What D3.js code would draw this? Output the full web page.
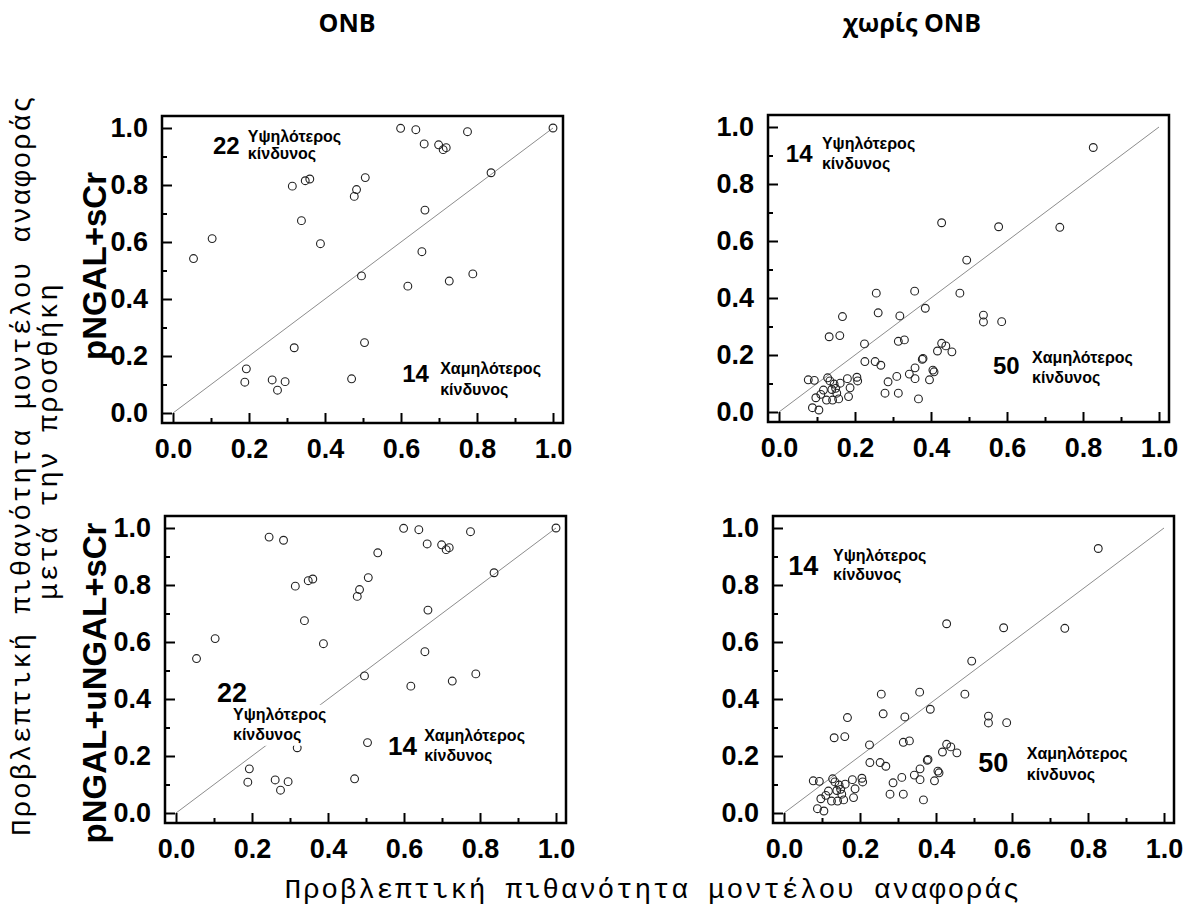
<!DOCTYPE html>
<html>
<head>
<meta charset="utf-8">
<script src="https://cdn.jsdelivr.net/npm/d3@7"></script>
<style>
  body { margin: 0; background: #fff; }
</style>
</head>
<body>
<div id="chart"></div>
<script>
// ONB patients: reference model probability vs. model with pNGAL added
const onbRef = [0.599, 0.639, 0.661, 0.699, 0.711, 0.719, 0.775, 1.0, 0.837, 0.314, 0.348,
  0.360, 0.506, 0.483, 0.477, 0.338, 0.663, 0.103, 0.054, 0.388, 0.655, 0.496, 0.789,
  0.727, 0.618, 0.504, 0.319, 0.193, 0.189, 0.261, 0.295, 0.275, 0.470];
const onbNew = [0.999, 0.994, 0.944, 0.941, 0.924, 0.931, 0.987, 1.0, 0.843, 0.796, 0.815,
  0.821, 0.826, 0.784, 0.760, 0.675, 0.712, 0.612, 0.542, 0.594, 0.566, 0.481, 0.488,
  0.463, 0.445, 0.247, 0.229, 0.155, 0.108, 0.116, 0.110, 0.080, 0.120];
// extra ONB points that only show up once uNGAL is added
const onbExtraRef = [0.245, 0.283, 0.531];
const onbExtraNew = [0.968, 0.957, 0.913];

// patients without ONB
const noOnbRef = [0.827, 0.428, 0.578, 0.739, 0.494, 0.256, 0.357, 0.476, 0.385, 0.261,
  0.318, 0.167, 0.538, 0.538, 0.586, 0.132, 0.160, 0.225, 0.314, 0.330, 0.428, 0.439,
  0.455, 0.417, 0.226, 0.253, 0.268, 0.377, 0.379, 0.358, 0.343, 0.358, 0.405, 0.408,
  0.396, 0.310, 0.287, 0.279, 0.314, 0.367,
  0.077, 0.093, 0.128, 0.134, 0.161, 0.180, 0.205, 0.207, 0.187, 0.117, 0.139, 0.149,
  0.097, 0.125, 0.141, 0.157, 0.152, 0.183, 0.088, 0.105, 0.110, 0.145];
const noOnbNew = [0.928, 0.664, 0.650, 0.648, 0.533, 0.417, 0.424, 0.417, 0.364, 0.348,
  0.337, 0.335, 0.340, 0.316, 0.317, 0.264, 0.268, 0.239, 0.248, 0.253, 0.241, 0.232,
  0.211, 0.214, 0.177, 0.177, 0.164, 0.185, 0.188, 0.155, 0.133, 0.117, 0.147, 0.141,
  0.113, 0.125, 0.106, 0.066, 0.066, 0.046,
  0.113, 0.111, 0.120, 0.109, 0.101, 0.117, 0.122, 0.109, 0.085, 0.077, 0.079, 0.083,
  0.050, 0.042, 0.042, 0.046, 0.066, 0.054, 0.015, 0.007, 0.062, 0.098];

const majorTicks = [0, 0.2, 0.4, 0.6, 0.8, 1.0];
const minorTicks = [0.1, 0.3, 0.5, 0.7, 0.9];

const colTitles = ["ONB", "χωρίς ONB"];
const rowTitles = ["pNGAL+sCr", "pNGAL+uNGAL+sCr"];
const xTitle = "Προβλεπτική πιθανότητα μοντέλου αναφοράς";
const yTitle = ["Προβλεπτική πιθανότητα μοντέλου αναφοράς", "μετά την προσθήκη"];

// reclassification counts, placed in data units: [text, x, y, size, masked]
const notesTL = [["22", 0.105, 0.908, 24], ["Υψηλότερος", 0.197, 0.951, 16], ["κίνδυνος", 0.197, 0.891, 16],
  ["14", 0.603, 0.109, 24], ["Χαμηλότερος", 0.703, 0.137, 16], ["κίνδυνος", 0.703, 0.063, 16]];
const notesTR = [["14", 0.018, 0.877, 24], ["Υψηλότερος", 0.113, 0.923, 16], ["κίνδυνος", 0.113, 0.853, 16],
  ["50", 0.563, 0.133, 24], ["Χαμηλότερος", 0.666, 0.172, 16], ["κίνδυνος", 0.666, 0.102, 16]];
const notesBL = [["22", 0.108, 0.391, 27], ["Υψηλότερος", 0.150, 0.327, 16, true], ["κίνδυνος", 0.150, 0.257, 16, true],
  ["14", 0.558, 0.204, 26], ["Χαμηλότερος", 0.653, 0.254, 16], ["κίνδυνος", 0.653, 0.183, 16]];
const notesBR = [["14", 0.011, 0.835, 27], ["Υψηλότερος", 0.129, 0.884, 16], ["κίνδυνος", 0.129, 0.818, 16],
  ["50", 0.511, 0.144, 27], ["Χαμηλότερος", 0.639, 0.189, 16], ["κίνδυνος", 0.639, 0.116, 16]];

const width = 1187;
const height = 910;
const plotW = 380;
const plotH = 285;

const panels = [
  { left: 173, top: 128, ref: onbRef, next: onbNew, notes: notesTL },
  { left: 779, top: 127, ref: noOnbRef, next: noOnbNew, notes: notesTR },
  { left: 176, top: 528, ref: onbRef.concat(onbExtraRef), next: onbNew.concat(onbExtraNew), notes: notesBL },
  { left: 784, top: 528, ref: noOnbRef, next: noOnbNew, notes: notesBR }
];

const svg = d3.select("#chart").append("svg")
  .attr("width", width)
  .attr("height", height)
  .attr("viewBox", [0, 0, width, height]);

const sans = "'Liberation Sans', Arial, sans-serif";
const mono = "'Courier New', 'Liberation Mono', monospace";

panels.forEach(p => {
  const x = d3.scaleLinear([0, 1], [p.left, p.left + plotW]);
  const y = d3.scaleLinear([0, 1], [p.top + plotH, p.top]);

  const fx0 = p.left - 11, fx1 = p.left + plotW + 10;
  const fy0 = p.top - 12, fy1 = p.top + plotH + 10;

  const g = svg.append("g");

  // diagonal of no change
  g.append("line")
    .attr("x1", x(0)).attr("y1", y(0))
    .attr("x2", x(1)).attr("y2", y(1))
    .attr("stroke", "#8c8c8c")
    .attr("stroke-width", 1);

  // patients
  g.append("g")
    .selectAll("circle")
    .data(d3.zip(p.ref, p.next))
    .join("circle")
    .attr("cx", d => x(d[0]))
    .attr("cy", d => y(d[1]))
    .attr("r", 3.9)
    .attr("fill", "none")
    .attr("stroke", "#222")
    .attr("stroke-width", 1.1);

  // inward ticks, majors labelled
  g.append("g")
    .attr("transform", `translate(0,${fy1})`)
    .call(d3.axisBottom(x).tickValues(majorTicks).tickSize(-10).tickPadding(16).tickFormat(d3.format(".1f")));
  g.append("g")
    .attr("transform", `translate(0,${fy1})`)
    .call(d3.axisBottom(x).tickValues(minorTicks).tickSize(-5).tickFormat(""));
  g.append("g")
    .attr("transform", `translate(${fx0},0)`)
    .call(d3.axisLeft(y).tickValues(majorTicks).tickSize(-10).tickPadding(14).tickFormat(d3.format(".1f")));
  g.append("g")
    .attr("transform", `translate(${fx0},0)`)
    .call(d3.axisLeft(y).tickValues(minorTicks).tickSize(-5).tickFormat(""));

  g.selectAll(".domain").remove();
  g.selectAll(".tick line").attr("stroke", "#000").attr("stroke-width", 2);
  g.selectAll(".tick text")
    .attr("fill", "#000")
    .attr("font-family", sans)
    .attr("font-weight", "bold")
    .attr("font-size", 27);

  // frame
  g.append("rect")
    .attr("x", fx0).attr("y", fy0)
    .attr("width", fx1 - fx0).attr("height", fy1 - fy0)
    .attr("fill", "none")
    .attr("stroke", "#000")
    .attr("stroke-width", 2.5);

  // reclassification notes
  p.notes.forEach(([t, nx, ny, size, masked]) => {
    const holder = g.append("g");
    const txt = holder.append("text")
      .attr("x", x(nx)).attr("y", y(ny))
      .attr("font-family", sans)
      .attr("font-weight", "bold")
      .attr("font-size", size)
      .attr("fill", "#000")
      .text(t);
    if (masked) {
      const b = txt.node().getBBox();
      holder.insert("rect", "text")
        .attr("x", b.x - 2).attr("y", b.y - 1)
        .attr("width", b.width + 4).attr("height", b.height + 3)
        .attr("fill", "#fff");
    }
  });
});

// column titles
svg.append("g")
  .attr("font-family", "'Open Sans', sans-serif")
  .attr("font-weight", "bold")
  .attr("font-size", 25)
  .attr("text-anchor", "middle")
  .selectAll("text")
  .data(colTitles)
  .join("text")
  .attr("x", (d, i) => [347, 912][i])
  .attr("y", 32)
  .text(d => d);

// row titles
svg.append("g")
  .attr("font-family", sans)
  .attr("font-weight", "bold")
  .attr("font-size", 33)
  .attr("text-anchor", "middle")
  .selectAll("text")
  .data(rowTitles)
  .join("text")
  .attr("transform", (d, i) => `translate(106,${[266, 683][i]}) rotate(-90)`)
  .text(d => d);

// shared axis titles
svg.append("text")
  .attr("x", 652).attr("y", 898)
  .attr("font-family", mono)
  .attr("font-size", 28)
  .attr("text-anchor", "middle")
  .attr("textLength", 735)
  .attr("lengthAdjust", "spacing")
  .text(xTitle);

svg.append("g")
  .attr("font-family", mono)
  .attr("font-size", 28)
  .attr("text-anchor", "middle")
  .selectAll("text")
  .data(yTitle)
  .join("text")
  .attr("transform", (d, i) => `translate(${[30, 57][i]},${[466, 442][i]}) rotate(-90)`)
  .attr("textLength", (d, i) => [740, 316][i])
  .attr("lengthAdjust", "spacing")
  .text(d => d);
</script>
</body>
</html>
